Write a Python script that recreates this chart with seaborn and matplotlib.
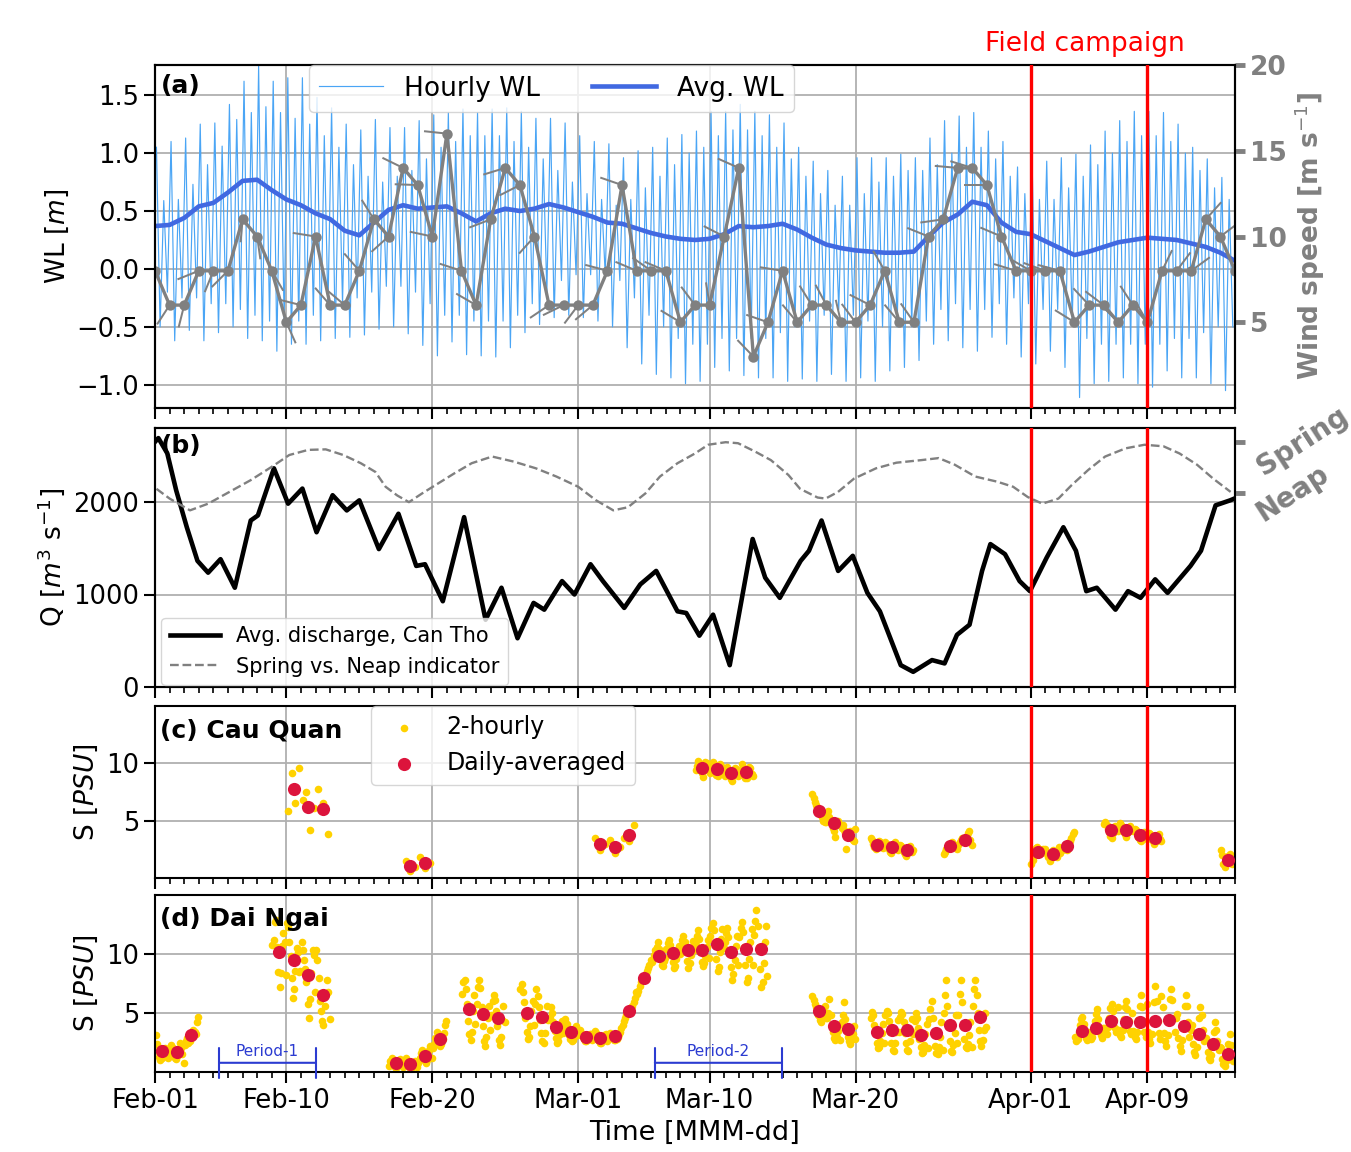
import numpy as np
import pandas as pd
import matplotlib.pyplot as plt
import matplotlib.transforms as mtransforms
import seaborn as sns

# ---- x axis: days since 2016-02-01 ----
day_ticks = [0, 9, 19, 29, 38, 48, 60, 68]
day_labels = ['Feb-01', 'Feb-10', 'Feb-20', 'Mar-01', 'Mar-10', 'Mar-20', 'Apr-01', 'Apr-09']
campaign_days = [60, 68]

# ---- (a) water level: daily tidal extremes (higher high, lower low, lower high, higher low) ----
wl_hh = [1.05, 1.10, 1.13, 1.25, 1.26, 1.42, 1.62, 1.75, 1.62, 1.65,
         1.65, 1.48, 1.39, 1.25, 1.20, 1.29, 1.22, 1.22, 1.28, 1.33,
         1.35, 1.38, 1.35, 1.38, 1.39, 1.36, 1.30, 1.30, 1.26, 1.15,
         1.10, 1.08, 0.96, 1.02, 1.05, 1.13, 1.16, 1.19, 1.36, 1.36,
         1.42, 1.36, 1.33, 1.26, 1.05, 0.93, 0.85, 0.80, 0.96, 0.96,
         0.96, 0.99, 0.96, 1.13, 1.28, 1.32, 1.35, 1.19, 1.10, 0.88,
         0.93, 0.93, 0.96, 0.99, 1.07, 1.19, 1.28, 1.36, 1.36, 1.35,
         1.25, 1.05, 0.95, 0.79]
wl_ll = [-0.50, -0.62, -0.53, -0.62, -0.55, -0.50, -0.60, -0.62, -0.71, -0.65,
         -0.65, -0.62, -0.60, -0.59, -0.57, -0.52, -0.50, -0.56, -0.66, -0.75,
         -0.63, -0.74, -0.75, -0.76, -0.68, -0.55, -0.48, -0.42, -0.40, -0.42,
         -0.45, -0.50, -0.68, -0.82, -0.91, -0.94, -0.99, -0.97, -0.85, -0.88,
         -0.92, -0.94, -0.94, -0.97, -0.95, -0.97, -0.91, -0.97, -0.94, -0.97,
         -0.88, -0.85, -0.79, -0.65, -0.62, -0.68, -0.71, -0.59, -0.65, -0.76,
         -0.82, -0.71, -0.85, -1.11, -0.99, -0.97, -0.94, -0.99, -1.02, -0.88,
         -0.94, -0.94, -0.99, -1.05]
wl_lh = [0.59, 0.60, 0.73, 0.90, 1.06, 1.29, 1.35, 1.40, 1.35, 1.30,
         1.25, 1.15, 1.05, 0.90, 0.80, 0.75, 0.80, 0.85, 0.95, 1.05,
         1.10, 1.15, 1.15, 1.15, 1.10, 1.05, 0.95, 0.85, 0.75, 0.65,
         0.60, 0.55, 0.60, 0.70, 0.80, 0.90, 1.00, 1.05, 1.15, 1.20,
         1.20, 1.15, 1.05, 0.95, 0.80, 0.65, 0.55, 0.55, 0.65, 0.75,
         0.80, 0.85, 0.85, 0.90, 1.00, 1.05, 1.05, 0.95, 0.80, 0.65,
         0.60, 0.60, 0.70, 0.80, 0.90, 1.00, 1.10, 1.15, 1.15, 1.10,
         1.00, 0.85, 0.70, 0.60]
wl_hl = [-0.20, -0.25, -0.25, -0.30, -0.30, -0.35, -0.40, -0.45, -0.45, -0.45,
         -0.40, -0.35, -0.30, -0.25, -0.20, -0.15, -0.15, -0.20, -0.30, -0.40,
         -0.40, -0.45, -0.45, -0.45, -0.40, -0.30, -0.20, -0.10, -0.05, -0.05,
         -0.05, -0.10, -0.25, -0.40, -0.50, -0.60, -0.65, -0.65, -0.60, -0.60,
         -0.60, -0.60, -0.55, -0.50, -0.45, -0.40, -0.35, -0.40, -0.45, -0.50,
         -0.50, -0.50, -0.45, -0.35, -0.30, -0.35, -0.35, -0.30, -0.25, -0.30,
         -0.35, -0.35, -0.45, -0.60, -0.65, -0.65, -0.65, -0.65, -0.65, -0.60,
         -0.60, -0.55, -0.50, -0.50]
wl_avg = [0.37, 0.38, 0.44, 0.54, 0.57, 0.66, 0.76, 0.77, 0.68, 0.60,
          0.55, 0.48, 0.43, 0.33, 0.29, 0.40, 0.51, 0.55, 0.52, 0.53,
          0.54, 0.48, 0.41, 0.48, 0.52, 0.50, 0.52, 0.56, 0.53, 0.49,
          0.45, 0.40, 0.39, 0.35, 0.31, 0.28, 0.26, 0.25, 0.26, 0.30,
          0.37, 0.36, 0.37, 0.39, 0.34, 0.27, 0.21, 0.18, 0.16, 0.15,
          0.14, 0.14, 0.15, 0.28, 0.40, 0.47, 0.58, 0.55, 0.40, 0.32,
          0.30, 0.24, 0.18, 0.12, 0.15, 0.19, 0.23, 0.25, 0.27, 0.26,
          0.25, 0.22, 0.19, 0.14, 0.07]

# daily wind speed [m/s] and direction of the wind stick [deg, screen]
wind_speed = [8, 6, 6, 8, 8, 8, 11, 10, 8, 5,
              6, 10, 6, 6, 8, 11, 10, 14, 13, 10,
              16, 8, 6, 11, 14, 13, 10, 6, 6, 6,
              6, 8, 13, 8, 8, 8, 5, 6, 6, 10,
              14, 3, 5, 8, 5, 6, 6, 5, 5, 6,
              8, 5, 5, 10, 11, 14, 14, 13, 10, 8,
              8, 8, 8, 5, 6, 6, 5, 6, 5, 8,
              8, 8, 11, 10, 8]
wind_dir = [200, 237, 256, 202, 248, 225, 265, 278, 300, 294,
            166, 171, 131, 140, 131, 122, 222, 154, 178, 168,
            174, 162, 150, 201, 197, 207, 228, 214, 206, 233,
            220, 165, 161, 157, 145, 157, 149, 127, 99, 153,
            156, 134, 161, 171, 130, 122, 118, 103, 127, 153,
            120, 130, 125, 158, 188, 175, 163, 180, 157, 163,
            150, 160, 165, 148, 133, 143, 135, 123, 120, 64,
            53, 36, 48, 37, 45]

# ---- (b) discharge at Can Tho and spring/neap indicator ----
q_day = [0.0, 0.23, 0.84, 1.45, 2.18, 2.91, 3.64, 4.49, 5.47, 6.56,
         7.05, 8.15, 9.12, 10.1, 11.07, 12.17, 13.14, 14.0, 15.34, 16.68,
         17.9, 18.5, 19.72, 21.18, 22.65, 23.74, 24.84, 25.94, 26.67, 27.89,
         28.74, 29.84, 30.69, 32.15, 33.25, 34.34, 35.8, 36.4, 37.3, 38.24,
         39.38, 40.95, 41.81, 42.81, 44.24, 44.81, 45.67, 46.81, 47.81, 48.81,
         49.67, 51.1, 51.95, 53.24, 54.1, 54.95, 55.81, 56.67, 57.24, 58.24,
         59.24, 59.95, 61.1, 62.24, 63.1, 63.81, 64.53, 65.81, 66.67, 67.53,
         68.53, 69.38, 70.95, 71.67, 72.67, 73.67, 74.0]
q_val = [2650, 2691, 2527, 2127, 1727, 1364, 1236, 1382, 1073, 1800,
         1855, 2364, 1982, 2145, 1673, 2073, 1909, 2018, 1491, 1873,
         1309, 1327, 927, 1836, 727, 1073, 527, 909, 836, 1145,
         1000, 1327, 1145, 855, 1109, 1255, 818, 800, 555, 782,
         236, 1600, 1182, 964, 1364, 1473, 1800, 1255, 1418, 1018,
         818, 236, 164, 291, 255, 564, 673, 1255, 1545, 1436,
         1145, 1036, 1400, 1727, 1473, 1036, 1073, 836, 1036, 964,
         1164, 1018, 1309, 1473, 1964, 2018, 2040]
sn_day = [0.1, 1.0, 2.4, 3.64, 5.1, 6.56, 8.0, 9.2, 10.5, 11.7,
          12.9, 14.1, 15.1, 15.8, 16.6, 17.4, 18.3, 19.2, 20.5, 21.7,
          23.1, 24.6, 26.1, 27.5, 29.0, 30.2, 31.4, 32.4, 33.6, 34.6,
          35.8, 37.0, 37.9, 39.1, 39.95, 41.1, 42.2, 43.4, 44.2, 45.4,
          45.95, 46.8, 47.9, 49.4, 50.8, 52.5, 53.7, 54.8, 56.2, 57.7,
          58.8, 59.8, 60.8, 61.9, 62.8, 63.95, 65.1, 66.5, 67.8, 69.1,
          70.2, 71.4, 72.5, 73.7]
sn_val = [0.08, -0.11, -0.34, -0.21, 0.02, 0.25, 0.51, 0.74, 0.84, 0.85,
          0.74, 0.58, 0.41, 0.12, -0.05, -0.18, -0.01, 0.15, 0.38, 0.58,
          0.71, 0.61, 0.48, 0.32, 0.12, -0.14, -0.34, -0.28, -0.01, 0.32,
          0.58, 0.77, 0.94, 0.99, 0.97, 0.81, 0.64, 0.35, 0.08, -0.09,
          -0.11, 0.02, 0.28, 0.48, 0.59, 0.64, 0.68, 0.55, 0.32, 0.22,
          0.12, -0.08, -0.21, -0.11, 0.15, 0.45, 0.71, 0.87, 0.94, 0.91,
          0.77, 0.55, 0.28, 0.02]

# ---- (c) Cau Quan salinity ----
cq_days = [9, 10, 11, 17, 18, 30, 31, 32, 37, 38, 39, 40, 45, 46, 47,
           49, 50, 51, 54, 55, 60, 61, 62, 65, 66, 67, 68, 73]
cq_daily = [7.76, 6.16, 6.02, 1.02, 1.31, 2.97, 2.73, 3.75, 9.59, 9.48, 9.13, 9.24, 5.87, 4.80, 3.78,
            2.91, 2.67, 2.44, 2.76, 3.34, 2.24, 2.09, 2.76, 4.22, 4.22, 3.75, 3.46, 1.57]
cq_2h = ["5.8 9.2 6.5 9.6", "6.8 7.5 4.2 6.1", "7.8 6.5 3.8",
         "1.5 0.6 1.0", "1.8 0.9 1.3",
         "3.5 2.4 3.0", "3.3 2.2 2.7", "3.5 3.2 4.6",
         "9.4 9.8 10.2 9.9 9.5 9.2 8.8 9.6 10.1 10.0 9.7 9.3",
         "9.2 9.6 10.1 9.9 9.4 9.0 8.9 9.5 9.9 9.8 9.3 9.2",
         "8.9 9.3 9.7 9.5 9.0 8.6 8.5 9.0 9.6 9.5 9.1 8.9",
         "9.0 9.4 9.9 9.6 9.1 8.7 8.7 9.2 9.7 9.6 9.1 8.9",
         "7.3 7.0 6.6 6.4 6.1 5.8 5.6 5.5 5.3 5.0 4.9 4.9",
         "5.6 5.8 5.3 5.0 4.9 4.4 4.1 3.6 4.7 5.0 4.6 4.6",
         "4.4 4.6 4.2 3.9 2.5 3.6 3.8 4.1 3.5 3.3 3.2 4.3",
         "3.5 3.3 3.0 2.7 2.5 2.6 2.9 3.2 3.1 2.8 2.6 2.7",
         "3.1 3.0 2.8 2.5 2.3 2.2 2.5 2.9 3.1 2.7 2.4 2.5",
         "2.9 2.8 2.5 2.3 2.1 1.9 2.2 2.6 2.8 2.5 2.3 2.4",
         "2.1 2.3 2.5 2.6 2.8 2.7 2.9 3.1 3.0 2.9 2.7 2.5",
         "2.9 3.1 3.3 3.5 3.4 3.2 3.3 3.6 3.9 4.1 3.3 2.9",
         "1.2 1.6 2.0 2.4 2.6 2.7 2.5 2.3 2.2 2.4 2.5 2.5",
         "2.3 2.1 1.8 1.5 1.9 2.2 2.4 2.3 1.9 1.8 2.2 2.7",
         "2.2 2.4 2.6 2.7 2.5 2.4 2.8 3.0 3.2 3.5 3.8 4.0",
         "4.7 4.9 4.6 4.3 4.0 3.7 3.5 3.9 4.3 4.5 4.2 4.1",
         "4.5 4.8 4.6 4.3 4.0 3.8 3.6 3.9 4.2 4.5 4.3 4.2",
         "4.1 4.3 4.2 3.9 3.6 3.3 3.2 3.5 3.8 4.0 3.7 3.4",
         "3.7 3.9 3.8 3.5 3.2 3.0 3.1 3.3 3.6 3.8 3.4 3.2",
         "2.4 2.0 1.2 1.0 1.3 1.6 1.9 2.1 1.4 1.2 1.3 1.5"]

# ---- (d) Dai Ngai salinity ----
dn_days = [0, 1, 2, 8, 9, 10, 11, 16, 17, 18, 19, 21, 22, 23,
           25, 26, 27, 28, 29, 30, 31, 32, 33, 34, 35, 36, 37, 38, 39, 40, 41,
           45, 46, 47, 49, 50, 51, 52, 53, 54, 55, 56,
           63, 64, 65, 66, 67, 68, 69, 70, 71, 72, 73]
dn_daily = [1.74, 1.66, 3.17, 10.17, 9.45, 8.26, 6.54, 0.73, 0.64, 1.37, 2.82, 5.35, 4.91, 4.56,
            5.0, 4.62, 3.78, 3.40, 2.97, 2.91, 3.05, 5.2, 7.99, 9.8, 10.09, 10.32, 10.38, 10.87, 10.2, 10.44, 10.44,
            5.2, 3.9, 3.63, 3.4, 3.55, 3.52, 3.11, 3.34, 3.98, 3.98, 4.62,
            3.46, 3.75, 4.33, 4.22, 4.27, 4.36, 4.42, 3.92, 3.23, 2.35, 1.51]
dn_2h = ["3.1 2.4 1.8 1.3 1.0 1.2 1.5 1.9 2.0 1.6 1.2 1.4",
         "1.8 2.3 2.0 1.5 1.2 1.1 1.4 1.9 2.5 2.0 1.5 0.8",
         "2.3 2.6 2.9 2.5 2.6 3.0 3.3 3.6 3.4 3.2 4.2 4.7",
         "10.8 11.2 12.7 12.9 10.6 8.5 7.2 8.4 10.7 11.8 11.0 8.2",
         "12.6 12.3 11.0 9.8 8.0 6.3 7.0 8.6 10.5 10.2 8.5 8.6",
         "11.0 10.3 9.5 8.7 7.6 5.8 4.6 6.2 8.4 10.3 9.9 6.8",
         "10.3 9.5 8.0 6.0 5.2 4.3 4.0 5.6 6.5 7.8 6.8 4.5",
         "0.5 0.9 1.2 1.0 0.7 0.4 0.3 0.6 0.9 1.1 0.8 0.4",
         "0.6 1.0 1.2 0.9 0.5 0.3 0.2 0.4 0.6 0.9 0.7 0.4",
         "0.8 1.2 1.6 1.9 1.5 1.0 0.8 1.0 1.4 1.9 2.2 1.2",
         "2.0 2.4 2.9 3.4 3.1 2.6 2.2 2.4 2.8 3.3 4.0 4.3",
         "6.6 7.6 7.8 7.0 5.8 4.3 3.2 2.7 3.4 5.2 6.5 4.1",
         "5.8 7.2 7.8 7.1 5.5 3.9 2.6 2.2 3.0 4.6 5.6 3.6",
         "4.8 6.0 6.5 6.1 5.2 3.9 2.7 2.3 3.0 4.4 5.6 4.2",
         "7.0 7.5 6.8 5.9 4.6 3.4 2.8 3.0 3.9 5.2 6.0 4.0",
         "5.8 7.0 6.4 5.5 4.4 3.3 2.6 2.5 3.3 4.6 5.6 4.4",
         "4.6 5.5 5.0 4.2 3.5 2.9 2.5 2.6 3.1 3.9 4.3 3.3",
         "3.9 4.5 4.1 3.6 3.1 2.8 2.6 2.7 3.0 3.5 3.9 3.1",
         "3.2 3.6 3.3 3.0 2.8 2.6 2.6 2.7 2.9 3.2 3.2 2.7",
         "3.1 3.5 3.3 3.0 2.7 2.5 2.5 2.6 2.8 3.1 3.2 2.6",
         "2.8 3.0 3.3 3.1 2.9 2.7 2.7 2.8 3.0 3.2 3.4 3.7",
         "4.0 4.3 4.6 4.8 5.0 5.1 5.2 5.4 5.6 5.9 6.3 6.8",
         "6.6 6.9 7.3 7.6 7.8 8.0 8.1 8.3 8.6 8.8 9.1 9.5",
         "9.3 9.6 9.9 10.3 10.6 11.0 10.4 9.6 9.1 9.0 9.4 9.7",
         "10.4 10.9 11.2 10.8 10.1 9.3 8.8 9.0 9.6 10.3 10.7 10.0",
         "10.6 11.2 11.5 11.0 10.2 9.4 8.8 9.2 9.9 10.6 11.1 10.3",
         "10.8 11.5 12.0 11.3 10.2 9.3 9.0 9.2 9.8 10.6 11.2 9.7",
         "11.5 12.2 12.6 12.0 10.9 9.6 8.6 8.9 10.2 11.3 12.1 10.5",
         "11.0 11.8 12.2 11.4 10.2 8.9 7.8 8.3 9.5 10.7 11.5 9.1",
         "11.4 12.2 12.7 11.9 10.6 9.1 7.6 8.0 9.6 11.0 12.1 9.1",
         "11.6 12.8 13.7 12.4 10.6 8.7 7.2 7.6 9.2 11.0 12.4 8.1",
         "6.4 6.1 5.8 5.5 5.2 4.8 4.4 4.2 4.6 5.2 5.6 4.6",
         "4.6 5.0 6.2 4.8 4.0 3.4 2.9 2.7 3.0 3.5 4.0 2.7",
         "4.2 4.8 5.9 4.5 3.6 3.0 2.6 2.4 2.7 3.2 3.9 2.8",
         "4.6 5.1 4.8 4.0 3.2 2.5 2.0 2.1 2.6 3.3 4.1 2.5",
         "4.8 5.2 5.0 4.3 3.4 2.5 1.9 1.8 2.5 3.4 4.4 3.4",
         "4.7 5.1 4.9 4.2 3.3 2.5 1.9 1.8 2.6 3.5 4.5 3.2",
         "4.3 5.0 4.6 3.7 2.8 2.1 1.6 1.7 2.3 3.2 4.1 2.0",
         "4.5 5.3 6.0 4.6 3.2 2.2 1.6 1.5 2.1 3.0 4.2 1.9",
         "5.0 6.5 7.8 5.6 3.9 2.6 1.8 1.7 2.3 3.3 4.8 2.5",
         "4.8 6.6 7.8 5.9 4.0 2.8 2.1 2.0 2.4 3.1 4.2 2.1",
         "5.6 7.0 7.8 6.5 5.0 3.6 2.6 2.2 2.7 3.6 5.0 3.8",
         "3.0 2.6 2.8 3.4 4.0 4.5 4.7 4.1 3.4 2.9 2.7 3.4",
         "3.2 2.8 3.0 3.6 4.3 4.9 5.3 4.5 3.7 3.1 2.9 3.7",
         "3.7 3.3 3.2 3.8 4.6 5.4 5.8 5.2 4.4 3.7 3.4 5.5",
         "3.6 3.1 3.0 3.6 4.5 5.5 6.0 5.3 4.3 3.5 3.2 5.0",
         "3.5 3.0 2.8 3.4 4.4 5.6 6.5 5.5 4.3 3.4 3.0 5.8",
         "3.4 2.8 2.5 3.2 4.4 5.9 7.3 6.0 4.3 3.3 2.8 6.4",
         "5.5 3.3 2.6 2.2 3.1 4.5 6.2 7.0 6.1 4.6 3.4 4.6",
         "4.9 2.9 2.2 1.8 2.7 4.0 5.6 6.5 5.6 4.2 3.0 3.6",
         "4.0 2.4 1.7 1.4 2.1 3.2 4.6 5.5 4.8 3.6 2.6 2.9",
         "2.9 1.7 1.2 1.0 1.4 2.2 3.4 4.2 3.6 2.6 1.9 2.1",
         "2.0 1.1 0.7 0.5 0.9 1.5 2.4 3.2 2.3 1.4 0.9 1.2"]

periods = [(4.4, 11.0), (34.25, 42.95)]
period_names = ['Period-1', 'Period-2']


def two_hourly(days, strings):
    t, s = [], []
    for d, txt in zip(days, strings):
        vals = [float(v) for v in txt.split()]
        n = len(vals)
        t += [d + (i + 0.5) / n for i in range(n)]
        s += vals
    return pd.DataFrame({'t': t, 's': s})


def drop_legend(ax):
    if ax.get_legend() is not None:
        ax.get_legend().remove()


plt.rcParams['font.family'] = ['DejaVu Sans']
plt.rcParams['axes.linewidth'] = 1.5
plt.rcParams['lines.solid_joinstyle'] = 'round'

fig = plt.figure(figsize=(13.51, 11.52), dpi=100)


def box(top, bottom):
    return [155 / 1351, 1 - bottom / 1152, 1080 / 1351, (bottom - top) / 1152]


ax_a = fig.add_axes(box(65, 408))
ax_b = fig.add_axes(box(428, 687), sharex=ax_a)
ax_c = fig.add_axes(box(706, 878), sharex=ax_a)
ax_d = fig.add_axes(box(895, 1072), sharex=ax_a)
grid_kw = dict(color='#b0b0b0', lw=1.3)

# ---------------- (a) ----------------
hw_t, hw_v = [], []
for d in range(len(wl_hh)):
    hw_t += [d + 0.1, d + 0.35, d + 0.6, d + 0.85]
    hw_v += [wl_hh[d], wl_ll[d], wl_lh[d], wl_hl[d]]
sns.lineplot(x=hw_t, y=hw_v, ax=ax_a, color='#4aa5f5', lw=0.85, label='Hourly WL',
             estimator=None, sort=False)
sns.lineplot(x=np.arange(len(wl_avg)), y=wl_avg, ax=ax_a, color='royalblue', lw=3.3,
             label='Avg. WL', estimator=None)
drop_legend(ax_a)
ax_a.set_ylim(-1.2, 1.76)
ax_a.set_yticks([-1.0, -0.5, 0.0, 0.5, 1.0, 1.5])
ax_a.set_ylabel('WL [$m$]', fontsize=19)
ax_a.grid(True, **grid_kw)

ax_w = ax_a.twinx()
wd = np.arange(len(wind_speed))
ang = np.deg2rad(wind_dir)
ax_w.quiver(wd, wind_speed, 23 * np.cos(ang), 23 * np.sin(ang), angles='uv',
            scale_units='dots', scale=1, units='dots', width=2.0, headwidth=0,
            headlength=0, headaxislength=0, pivot='tail', color='gray', zorder=1.5)
sns.lineplot(x=wd, y=wind_speed, ax=ax_w, color='gray', lw=2.4, marker='o',
             markersize=7.5, markeredgewidth=0, estimator=None, zorder=2)
ax_w.set_ylim(0, 20)
ax_w.set_yticks([5, 10, 15, 20], labels=['5', '10', '15', '20'],
                fontweight='bold', color='gray')
ax_w.tick_params(axis='y', colors='gray', width=3.5, length=7, labelsize=19)
ax_w.set_ylabel('Wind speed [m s$^{-1}$]', color='gray', fontweight='bold', fontsize=19)
h, l = ax_a.get_legend_handles_labels()
ax_w.legend(h, l, loc='upper center', bbox_to_anchor=(0.367, 1.0), borderaxespad=0,
            ncol=2, fontsize=19, handlelength=2.4)
ax_a.text(0.005, 0.975, '(a)', transform=ax_a.transAxes, fontsize=18,
          fontweight='bold', ha='left', va='top')
trans = mtransforms.blended_transform_factory(ax_w.transData, ax_w.transAxes)
ax_w.text(63.7, 1.022, 'Field campaign', transform=trans, color='red', fontsize=19,
          ha='center', va='bottom')

# ---------------- (b) ----------------
sns.lineplot(x=q_day, y=q_val, ax=ax_b, color='black', lw=3.3,
             label='Avg. discharge, Can Tho', estimator=None)
drop_legend(ax_b)
ax_b.set_ylim(0, 2800)
ax_b.set_yticks([0, 1000, 2000])
ax_b.set_ylabel('Q [$m^3$ s$^{-1}$]', fontsize=19)
ax_b.grid(True, **grid_kw)

ax_sn = ax_b.twinx()
sns.lineplot(x=sn_day, y=sn_val, ax=ax_sn, color='gray', lw=1.7, ls='--',
             label='Spring vs. Neap indicator', estimator=None)
drop_legend(ax_sn)
ax_sn.set_ylim(-3.787, 1.267)
ax_sn.set_yticks([0, 1], labels=['Neap', 'Spring'], rotation=33, fontweight='bold',
                 color='gray', fontsize=20, ha='left', va='center')
ax_sn.tick_params(axis='y', colors='gray', width=3.5, length=7, pad=5)
h1, l1 = ax_b.get_legend_handles_labels()
h2, l2 = ax_sn.get_legend_handles_labels()
ax_sn.legend(h1 + h2, l1 + l2, loc='lower left', bbox_to_anchor=(0.004, 0.0),
             borderaxespad=0.1, fontsize=15, handlelength=2.4)
ax_b.text(0.005, 0.975, '(b)', transform=ax_b.transAxes, fontsize=18,
          fontweight='bold', ha='left', va='top')

# ---------------- (c) / (d) ----------------
panels = [(ax_c, cq_days, cq_daily, cq_2h, '(c) Cau Quan'),
          (ax_d, dn_days, dn_daily, dn_2h, '(d) Dai Ngai')]
for ax, days, daily, strs, title in panels:
    df2 = two_hourly(days, strs)
    sns.scatterplot(data=df2, x='t', y='s', ax=ax, color='#ffd200', s=30,
                    linewidth=0, label='2-hourly', zorder=2)
    sns.scatterplot(x=np.array(days) + 0.5, y=daily, ax=ax, color='crimson', s=90,
                    linewidth=0, label='Daily-averaged', zorder=3)
    drop_legend(ax)
    ax.set_ylim(0, 15)
    ax.set_yticks([5, 10])
    ax.set_ylabel('S [$PSU$]', fontsize=19)
    ax.grid(True, **grid_kw)
    ax.set_axisbelow(True)
    ax.text(0.005, 0.93, title, transform=ax.transAxes, fontsize=18,
            fontweight='bold', ha='left', va='top')

ax_c.legend(loc='upper left', bbox_to_anchor=(0.2, 1.0), borderaxespad=0, fontsize=17)

for (p0, p1), name in zip(periods, period_names):
    ax_d.annotate('', xy=(p0, 0.78), xytext=(p1, 0.78),
                  arrowprops=dict(arrowstyle='|-|,widthA=0.55,widthB=0.55',
                                  color='#2b3bd1', lw=1.5, shrinkA=0, shrinkB=0,
                                  mutation_scale=20))
    ax_d.text((p0 + p1) / 2, 1.1, name, color='#2b3bd1', fontsize=11,
              ha='center', va='bottom')

# campaign lines
for ax in [ax_w, ax_sn, ax_c, ax_d]:
    for d in campaign_days:
        ax.axvline(d, color='red', lw=2.4, zorder=5)

# x axis
ax_d.set_xlim(0, 74)
ax_d.set_xticks(day_ticks)
ax_d.set_xticks(np.arange(0, 75), minor=True)
ax_d.set_xticklabels(day_labels)
ax_d.set_xlabel('Time [MMM-dd]', fontsize=19.5)
for ax in [ax_a, ax_b, ax_c, ax_d]:
    ax.tick_params(axis='both', which='major', direction='out', length=8, width=1.5,
                   labelsize=18.5)
    ax.tick_params(axis='x', which='minor', direction='out', length=4.5, width=1.2)
for ax in [ax_a, ax_b, ax_c]:
    ax.tick_params(axis='x', labelbottom=False)

fig.savefig('out.png', dpi=100)
